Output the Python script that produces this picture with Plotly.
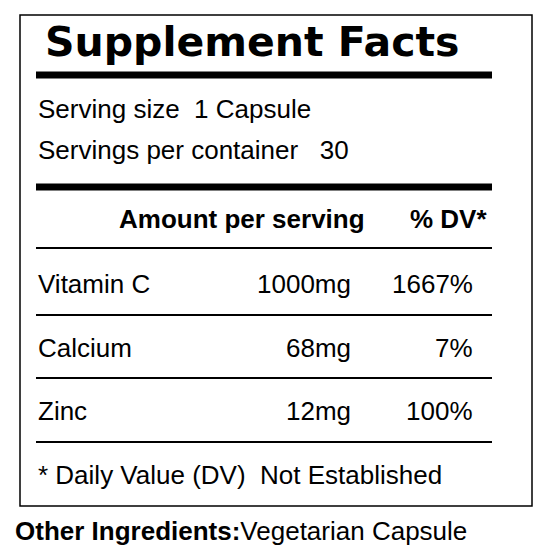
import plotly.graph_objects as go

nutrients = ["Vitamin C", "Calcium", "Zinc"]
amounts = ["1000mg", "68mg", "12mg"]
dvs = ["1667%", "7%", "100%"]
serving_size = "1 Capsule"
servings = "30"

W, H = 554, 560
DX, DY = -9, -7
fig = go.Figure()
fig.update_layout(width=W, height=H, margin=dict(l=0, r=0, t=0, b=0),
                  paper_bgcolor="white", plot_bgcolor="white", showlegend=False)
fig.update_xaxes(range=[0, W], visible=False, fixedrange=True)
fig.update_yaxes(range=[H, 0], visible=False, fixedrange=True)

NF = "Liberation Sans Narrow, Arial Narrow, sans-serif"
shapes = [dict(type="rect", x0=21+DX, x1=533+DX, y0=14+DY, y1=505+DY, line=dict(color="black", width=1.5))]
def hline(y, w):
    shapes.append(dict(type="line", x0=37+DX, x1=493+DX, y0=y+DY, y1=y+DY, line=dict(color="black", width=w)))
hline(74, 7); hline(186, 7); hline(247, 1.8)
row_y = [283, 347, 410]
for y in [314, 377, 441]:
    hline(y, 1.8)
fig.update_layout(shapes=shapes)

ann = []
def t(x, y, s, size, anchor="left", bold=False, font=NF):
    ann.append(dict(x=x+DX, y=y+DY, xref="x", yref="y", text=f"<b>{s}</b>" if bold else s,
                    showarrow=False, xanchor=anchor, yanchor="middle",
                    font=dict(family=font, size=size, color="black")))
t(44, 41, "Supplement Facts", 41, bold=True, font="DejaVu Sans, sans-serif")
t(37, 108, f"Serving size  {serving_size}", 26)
t(37, 149, f"Servings per container   {servings}", 26)
t(368, 218, "Amount per serving", 26, "right", True)
t(490, 218, "% DV*", 26, "right", True)
for n, a, d, y in zip(nutrients, amounts, dvs, row_y):
    t(37, y, n, 26)
    t(354, y, a, 26, "right")
    t(476, y, d, 26, "right")
t(37, 474, "* Daily Value (DV)  Not Established", 26)
t(14, 530, "<b>Other Ingredients:</b>Vegetarian Capsule", 26)
fig.update_layout(annotations=ann)
fig.write_html("out.html")
